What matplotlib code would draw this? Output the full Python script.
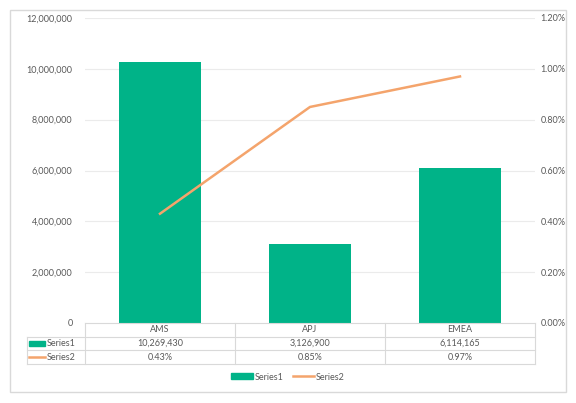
import matplotlib
matplotlib.use("Agg")
import matplotlib.pyplot as plt
from matplotlib.patches import Rectangle
from matplotlib.lines import Line2D

# data
regions = ["AMS", "APJ", "EMEA"]
series1 = [10269430, 3126900, 6114165]
series2 = [0.43, 0.85, 0.97]  # percent
series_names = ["Series1", "Series2"]

bar_color = "#00B388"
line_color = "#F4A46C"
text_color = "#595959"
grid_color = "#D9D9D9"

plt.rcParams["font.family"] = ["Lato", "DejaVu Sans"]
plt.rcParams["font.size"] = 6.5

W, H = 576, 403
fig = plt.figure(figsize=(W / 100, H / 100), dpi=100)

# outer chart border
fig.patches.append(Rectangle((10 / W, 1 - 392 / H), 556 / W, 382 / H, transform=fig.transFigure,
                             fill=False, edgecolor=grid_color, linewidth=1))

x0, x1, y_top, y_zero = 85, 535, 18, 323
ax = fig.add_axes([x0 / W, 1 - y_zero / H, (x1 - x0) / W, (y_zero - y_top) / H])
ax2 = ax.twinx()

xs = range(len(regions))
ax.bar(xs, series1, width=0.55, color=bar_color, zorder=2)
ax2.plot(xs, series2, color=line_color, linewidth=1.8, zorder=3)

ax.set_xlim(-0.5, len(regions) - 0.5)
ax.set_ylim(0, 12000000)
ax2.set_ylim(0, 1.2)
ax.set_yticks(range(0, 12000001, 2000000))
ax.set_yticklabels(["{:,}".format(v) for v in range(0, 12000001, 2000000)])
ax2.set_yticks([i * 0.2 for i in range(7)])
ax2.set_yticklabels(["{:.2f}%".format(i * 0.2) for i in range(7)])
ax.set_xticks([])
for a in (ax, ax2):
    for s in a.spines.values():
        s.set_visible(False)
    a.tick_params(axis="y", length=0, colors=text_color, labelsize=6.5)
ax.tick_params(axis="y", pad=9)
ax2.tick_params(axis="y", pad=4)
for v in range(2000000, 12000001, 2000000):
    ax.axhline(v, color="#EBEBEB", linewidth=0.8, zorder=0)

# data table under the plot
ph = y_zero - y_top
rows_px = [323, 337, 350, 364]
ry = [-(r - y_zero) / ph for r in rows_px]
tl = (27 - x0) / (x1 - x0)
cols = [0, 1 / 3, 2 / 3, 1]
kw = dict(transform=ax.transAxes, clip_on=False, color=grid_color, linewidth=0.8)
ax.add_line(Line2D([0, 1], [ry[0], ry[0]], **kw))
for y in ry[1:]:
    ax.add_line(Line2D([tl, 1], [y, y], **kw))
for c in cols:
    ax.add_line(Line2D([c, c], [ry[0], ry[3]], **kw))
ax.add_line(Line2D([tl, tl], [ry[1], ry[3]], **kw))

tkw = dict(transform=ax.transAxes, ha="center", va="center", color=text_color, fontsize=6.5, clip_on=False)
for i, reg in enumerate(regions):
    cx = (cols[i] + cols[i + 1]) / 2
    ax.text(cx, (ry[0] + ry[1]) / 2, reg, **tkw)
    ax.text(cx, (ry[1] + ry[2]) / 2, "{:,}".format(series1[i]), **tkw)
    ax.text(cx, (ry[2] + ry[3]) / 2, "{:.2f}%".format(series2[i]), **tkw)

# legend keys in table
kx0 = (29 - x0) / (x1 - x0)
kx1 = (45 - x0) / (x1 - x0)
ym1 = (ry[1] + ry[2]) / 2
ym2 = (ry[2] + ry[3]) / 2
ax.add_patch(Rectangle((kx0, ym1 - 0.008), kx1 - kx0, 0.016, transform=ax.transAxes,
                       color=bar_color, clip_on=False))
ax.add_line(Line2D([kx0, kx1], [ym2, ym2], transform=ax.transAxes, clip_on=False,
                   color=line_color, linewidth=1.8))
lkw = dict(transform=ax.transAxes, ha="left", va="center", color=text_color, fontsize=6.5, clip_on=False)
ax.text(kx1 + 0.003, ym1, series_names[0], **lkw)
ax.text(kx1 + 0.003, ym2, series_names[1], **lkw)

# bottom legend
handles = [Rectangle((0, 0), 1, 1, color=bar_color),
           Line2D([], [], color=line_color, linewidth=1.8)]
fig.legend(handles, series_names, loc="center", bbox_to_anchor=(288 / W, 1 - 377 / H),
           ncol=2, frameon=False, fontsize=6.5, labelcolor=text_color,
           handlelength=2.4, handleheight=0.6, columnspacing=1.0, handletextpad=0.2)

fig.savefig("out.png", dpi=100, facecolor="white")
